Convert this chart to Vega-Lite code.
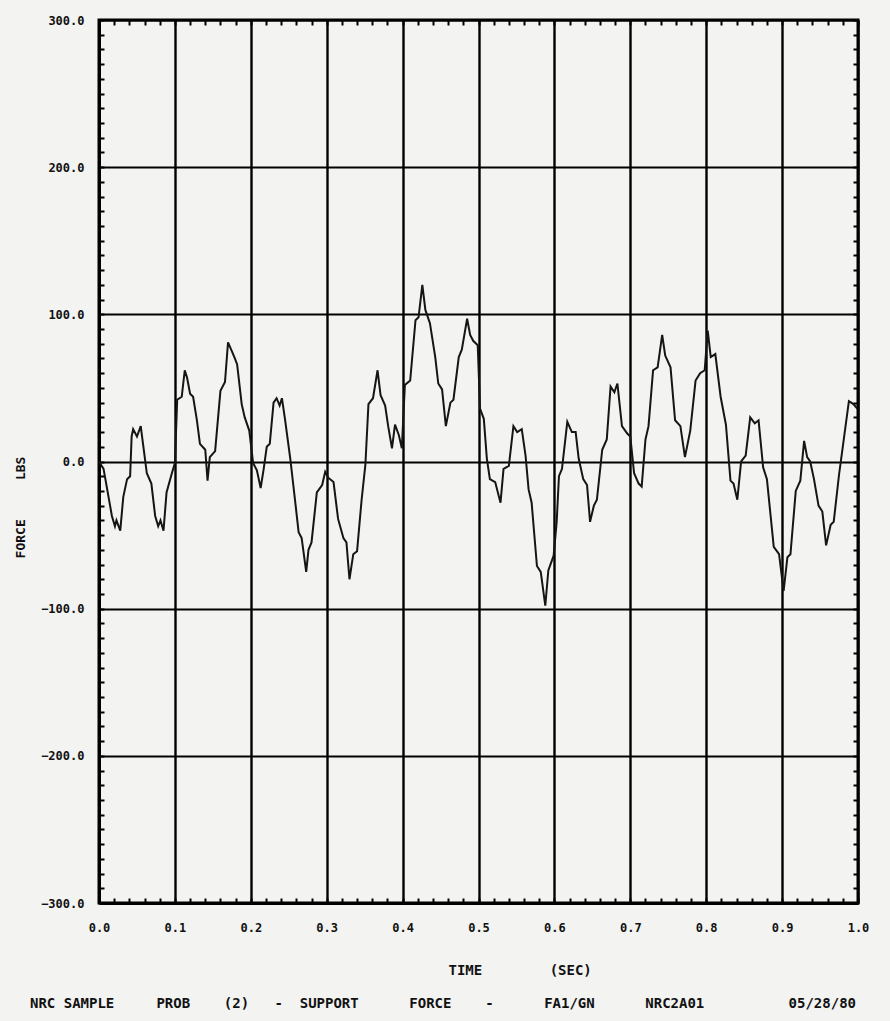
{
  "$schema": "https://vega.github.io/schema/vega-lite/v6.json",
  "autosize": {"type": "none"},
  "padding": {"left": 99, "top": 20, "right": 32, "bottom": 118},
  "width": 759,
  "height": 883,
  "background": "#f3f3f1",
  "config": {
    "view": {"stroke": "black", "strokeWidth": 3},
    "font": "DejaVu Sans Mono"
  },
  "title": {
    "text": "NRC\u00a0SAMPLE\u00a0\u00a0\u00a0\u00a0\u00a0PROB\u00a0\u00a0\u00a0\u00a0(2)\u00a0\u00a0\u00a0-\u00a0\u00a0SUPPORT\u00a0\u00a0\u00a0\u00a0\u00a0\u00a0FORCE\u00a0\u00a0\u00a0\u00a0-\u00a0\u00a0\u00a0\u00a0\u00a0\u00a0FA1/GN\u00a0\u00a0\u00a0\u00a0\u00a0\u00a0NRC2A01\u00a0\u00a0\u00a0\u00a0\u00a0\u00a0\u00a0\u00a0\u00a0\u00a005/28/80",
    "orient": "bottom",
    "anchor": "start",
    "frame": "group",
    "dx": -69,
    "offset": 20,
    "font": "DejaVu Sans Mono",
    "fontSize": 14,
    "fontWeight": "bold",
    "color": "#111"
  },
  "data": {"values": [
    {"t":0.000,"f":0},{"t":0.006,"f":-5},{"t":0.017,"f":-37},{"t":0.021,"f":-44},{"t":0.023,"f":-40},{"t":0.028,"f":-47},{"t":0.032,"f":-24},{"t":0.037,"f":-12},{"t":0.041,"f":-10},{"t":0.043,"f":17},{"t":0.045,"f":22},{"t":0.050,"f":17},{"t":0.055,"f":24},{"t":0.058,"f":12},{"t":0.063,"f":-8},{"t":0.069,"f":-15},{"t":0.074,"f":-37},{"t":0.078,"f":-44},{"t":0.081,"f":-40},{"t":0.085,"f":-47},{"t":0.089,"f":-21},{"t":0.096,"f":-8},{"t":0.100,"f":-1},
    {"t":0.103,"f":42},{"t":0.109,"f":44},{"t":0.113,"f":62},{"t":0.116,"f":57},{"t":0.120,"f":46},{"t":0.124,"f":44},{"t":0.129,"f":28},{"t":0.133,"f":12},{"t":0.140,"f":8},{"t":0.143,"f":-13},{"t":0.146,"f":3},{"t":0.153,"f":7},{"t":0.160,"f":48},{"t":0.166,"f":54},{"t":0.170,"f":81},{"t":0.175,"f":75},{"t":0.179,"f":70},{"t":0.182,"f":66},{"t":0.188,"f":39},{"t":0.192,"f":30},{"t":0.198,"f":21},
    {"t":0.203,"f":-1},{"t":0.208,"f":-6},{"t":0.213,"f":-18},{"t":0.217,"f":-5},{"t":0.221,"f":10},{"t":0.225,"f":12},{"t":0.230,"f":40},{"t":0.234,"f":43},{"t":0.238,"f":38},{"t":0.241,"f":43},{"t":0.245,"f":29},{"t":0.252,"f":2},{"t":0.258,"f":-25},{"t":0.263,"f":-48},{"t":0.267,"f":-52},{"t":0.273,"f":-75},{"t":0.276,"f":-60},{"t":0.280,"f":-55},{"t":0.287,"f":-21},{"t":0.294,"f":-16},{"t":0.298,"f":-7},
    {"t":0.302,"f":-11},{"t":0.309,"f":-14},{"t":0.315,"f":-39},{"t":0.322,"f":-52},{"t":0.326,"f":-55},{"t":0.330,"f":-80},{"t":0.335,"f":-63},{"t":0.340,"f":-61},{"t":0.346,"f":-26},{"t":0.351,"f":-2},{"t":0.355,"f":39},{"t":0.361,"f":43},{"t":0.367,"f":62},{"t":0.371,"f":45},{"t":0.377,"f":38},{"t":0.381,"f":24},{"t":0.386,"f":9},{"t":0.390,"f":25},{"t":0.395,"f":18},{"t":0.399,"f":9},
    {"t":0.403,"f":52},{"t":0.410,"f":55},{"t":0.417,"f":96},{"t":0.421,"f":98},{"t":0.426,"f":120},{"t":0.430,"f":103},{"t":0.436,"f":94},{"t":0.443,"f":71},{"t":0.447,"f":53},{"t":0.452,"f":49},{"t":0.457,"f":24},{"t":0.463,"f":40},{"t":0.467,"f":42},{"t":0.474,"f":71},{"t":0.478,"f":76},{"t":0.485,"f":97},{"t":0.489,"f":86},{"t":0.493,"f":82},{"t":0.499,"f":79},
    {"t":0.502,"f":36},{"t":0.507,"f":29},{"t":0.511,"f":2},{"t":0.515,"f":-12},{"t":0.522,"f":-14},{"t":0.529,"f":-28},{"t":0.533,"f":-5},{"t":0.540,"f":-3},{"t":0.546,"f":24},{"t":0.551,"f":20},{"t":0.557,"f":22},{"t":0.562,"f":4},{"t":0.566,"f":-19},{"t":0.570,"f":-28},{"t":0.577,"f":-71},{"t":0.582,"f":-75},{"t":0.588,"f":-98},{"t":0.592,"f":-74},{"t":0.599,"f":-64},
    {"t":0.603,"f":-41},{"t":0.606,"f":-10},{"t":0.610,"f":-5},{"t":0.617,"f":27},{"t":0.623,"f":20},{"t":0.628,"f":20},{"t":0.632,"f":2},{"t":0.638,"f":-12},{"t":0.643,"f":-16},{"t":0.647,"f":-41},{"t":0.652,"f":-30},{"t":0.656,"f":-26},{"t":0.663,"f":8},{"t":0.669,"f":15},{"t":0.674,"f":51},{"t":0.679,"f":47},{"t":0.683,"f":53},{"t":0.689,"f":24},{"t":0.696,"f":19},{"t":0.700,"f":17},
    {"t":0.705,"f":-8},{"t":0.711,"f":-15},{"t":0.715,"f":-17},{"t":0.720,"f":15},{"t":0.724,"f":24},{"t":0.730,"f":62},{"t":0.736,"f":64},{"t":0.742,"f":86},{"t":0.746,"f":72},{"t":0.753,"f":64},{"t":0.759,"f":28},{"t":0.766,"f":24},{"t":0.772,"f":3},{"t":0.779,"f":21},{"t":0.786,"f":55},{"t":0.792,"f":60},{"t":0.798,"f":62},
    {"t":0.802,"f":89},{"t":0.806,"f":71},{"t":0.812,"f":73},{"t":0.819,"f":44},{"t":0.826,"f":25},{"t":0.832,"f":-13},{"t":0.836,"f":-15},{"t":0.841,"f":-26},{"t":0.846,"f":0},{"t":0.852,"f":4},{"t":0.858,"f":30},{"t":0.864,"f":26},{"t":0.869,"f":28},{"t":0.875,"f":-4},{"t":0.880,"f":-12},{"t":0.889,"f":-58},{"t":0.896,"f":-63},
    {"t":0.902,"f":-88},{"t":0.907,"f":-65},{"t":0.911,"f":-63},{"t":0.918,"f":-20},{"t":0.924,"f":-13},{"t":0.929,"f":14},{"t":0.933,"f":3},{"t":0.937,"f":0},{"t":0.942,"f":-12},{"t":0.948,"f":-30},{"t":0.953,"f":-34},{"t":0.958,"f":-57},{"t":0.964,"f":-43},{"t":0.968,"f":-41},{"t":0.975,"f":-9},{"t":0.981,"f":14},{"t":0.988,"f":41},{"t":0.994,"f":39},{"t":0.999,"f":36}
  ]},
  "resolve": {"axis": {"x": "independent", "y": "independent"}},
  "layer": [
    {
      "mark": {"type": "line", "color": "#151515", "strokeWidth": 2, "interpolate": "linear"},
      "encoding": {
        "x": {
          "field": "t", "type": "quantitative",
          "scale": {"domain": [0, 1], "nice": false, "zero": false},
          "axis": {
            "orient": "bottom",
            "values": [0,0.02,0.04,0.06,0.08,0.1,0.12,0.14,0.16,0.18,0.2,0.22,0.24,0.26,0.28,0.3,0.32,0.34,0.36,0.38,0.4,0.42,0.44,0.46,0.48,0.5,0.52,0.54,0.56,0.58,0.6,0.62,0.64,0.66,0.68,0.7,0.72,0.74,0.76,0.78,0.8,0.82,0.84,0.86,0.88,0.9,0.92,0.94,0.96,0.98,1.0],
            "labelExpr": "abs(datum.value*10 - round(datum.value*10)) < 0.000001 ? format(datum.value, '.1f') : ''",
            "grid": true,
            "gridColor": "black",
            "gridWidth": 2.4,
            "gridOpacity": {"condition": {"test": "abs(datum.value*10 - round(datum.value*10)) < 0.000001", "value": 1}, "value": 0},
            "ticks": true,
            "tickSize": -5,
            "tickWidth": 2,
            "tickColor": "black",
            "domain": true,
            "domainColor": "black",
            "domainWidth": 3,
            "labelFont": "DejaVu Sans Mono",
            "labelFontWeight": "bold",
            "labelFontSize": 12,
            "labelColor": "#111",
            "labelPadding": 24,
            "labelFlush": false,
            "labelOverlap": false,
            "title": "TIME\u00a0\u00a0\u00a0\u00a0\u00a0\u00a0\u00a0\u00a0(SEC)",
            "titleFont": "DejaVu Sans Mono",
            "titleFontWeight": "bold",
            "titleFontSize": 14,
            "titleColor": "#111",
            "titleAnchor": "start",
            "titleAlign": "left",
            "titleX": 349,
            "titleY": 60
          }
        },
        "y": {
          "field": "f", "type": "quantitative",
          "scale": {"domain": [-300, 300], "nice": false, "zero": false},
          "axis": {
            "orient": "left",
            "values": [-300,-290,-280,-270,-260,-250,-240,-230,-220,-210,-200,-190,-180,-170,-160,-150,-140,-130,-120,-110,-100,-90,-80,-70,-60,-50,-40,-30,-20,-10,0,10,20,30,40,50,60,70,80,90,100,110,120,130,140,150,160,170,180,190,200,210,220,230,240,250,260,270,280,290,300],
            "labelExpr": "datum.value % 100 === 0 ? format(datum.value, '.1f') : ''",
            "grid": true,
            "gridColor": "black",
            "gridWidth": 2,
            "gridOpacity": {"condition": {"test": "datum.value % 100 === 0", "value": 1}, "value": 0},
            "ticks": true,
            "tickSize": -5,
            "tickWidth": 2,
            "tickColor": "black",
            "domain": true,
            "domainColor": "black",
            "domainWidth": 3,
            "labelFont": "DejaVu Sans Mono",
            "labelFontWeight": "bold",
            "labelFontSize": 12,
            "labelColor": "#111",
            "labelPadding": 20,
            "labelFlush": false,
            "labelOverlap": false,
            "title": "FORCE\u00a0\u00a0\u00a0\u00a0\u00a0LBS",
            "titleFont": "DejaVu Sans Mono",
            "titleFontWeight": "bold",
            "titleFontSize": 13,
            "titleColor": "#111",
            "titleAngle": 270,
            "titleAnchor": "middle",
            "titleX": -72,
            "titleY": 487
          }
        }
      }
    },
    {
      "mark": {"type": "line", "opacity": 0},
      "encoding": {
        "x": {
          "field": "t", "type": "quantitative",
          "scale": {"domain": [0, 1], "nice": false, "zero": false},
          "axis": {
            "orient": "top",
            "values": [0,0.02,0.04,0.06,0.08,0.1,0.12,0.14,0.16,0.18,0.2,0.22,0.24,0.26,0.28,0.3,0.32,0.34,0.36,0.38,0.4,0.42,0.44,0.46,0.48,0.5,0.52,0.54,0.56,0.58,0.6,0.62,0.64,0.66,0.68,0.7,0.72,0.74,0.76,0.78,0.8,0.82,0.84,0.86,0.88,0.9,0.92,0.94,0.96,0.98,1.0],
            "labels": false, "grid": false, "domain": false,
            "ticks": true, "tickSize": -5, "tickWidth": 2, "tickColor": "black",
            "title": null
          }
        },
        "y": {
          "field": "f", "type": "quantitative",
          "scale": {"domain": [-300, 300], "nice": false, "zero": false},
          "axis": {
            "orient": "right",
            "values": [-300,-290,-280,-270,-260,-250,-240,-230,-220,-210,-200,-190,-180,-170,-160,-150,-140,-130,-120,-110,-100,-90,-80,-70,-60,-50,-40,-30,-20,-10,0,10,20,30,40,50,60,70,80,90,100,110,120,130,140,150,160,170,180,190,200,210,220,230,240,250,260,270,280,290,300],
            "labels": false, "grid": false, "domain": false,
            "ticks": true, "tickSize": -5, "tickWidth": 2, "tickColor": "black",
            "title": null
          }
        }
      }
    }
  ]
}
